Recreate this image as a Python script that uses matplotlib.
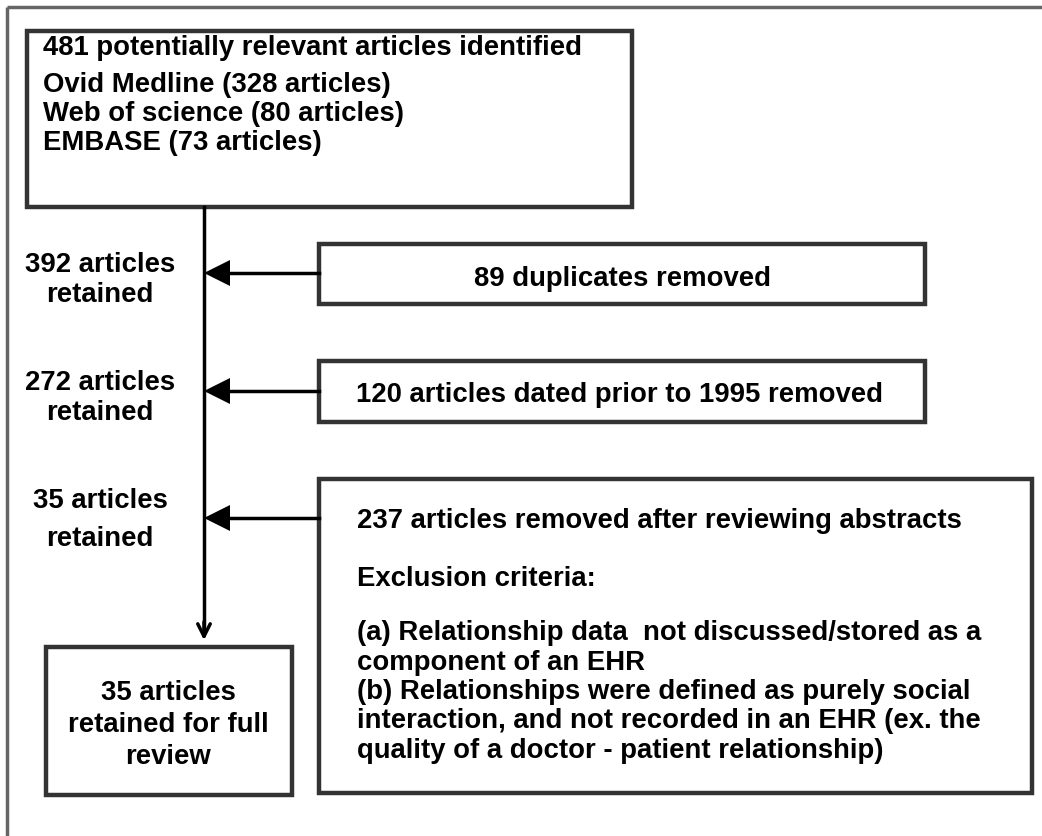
import matplotlib.pyplot as plt
from matplotlib.patches import Rectangle

# flowchart content
total_found = 481
sources = ['Ovid Medline', 'Web of science', 'EMBASE']
source_counts = [328, 80, 73]
retained_counts = [392, 272, 35]
removed_texts = ['89 duplicates removed',
                 '120 articles dated prior to 1995 removed',
                 '237 articles removed after reviewing abstracts']
criteria_lines = ['(a) Relationship data  not discussed/stored as a',
                  'component of an EHR',
                  '(b) Relationships were defined as purely social',
                  'interaction, and not recorded in an EHR (ex. the',
                  'quality of a doctor - patient relationship)']
final_lines = ['35 articles', 'retained for full', 'review']

W, H = 1042, 837
fig = plt.figure(figsize=(W / 100, H / 100), dpi=100)
ax = fig.add_axes([0, 0, 1, 1])
ax.set_xlim(0, W)
ax.set_ylim(H, 0)
ax.axis('off')

font = dict(family='Liberation Sans', fontweight='bold', fontsize=19.8, color='black')
box_col = '#333333'
dy = 2.5  # small nudge so the text sits like the original

def box(x0, y0, x1, y1):
    ax.add_patch(Rectangle((x0, y0), x1 - x0, y1 - y0, fill=False,
                           edgecolor=box_col, linewidth=3.2))

def txt(x, y, s, **kw):
    ax.text(x, y + dy, s, va='center', **kw, **font)

# outer frame (top and left only)
ax.plot([7, W], [8, 8], color='#666666', lw=2.5, solid_capstyle='butt')
ax.plot([7, 7], [8, H], color='#666666', lw=2.5, solid_capstyle='butt')

# top box
box(27, 32, 632, 208)
txt(43, 45, f'{total_found} potentially relevant articles identified')
for i, (s, c) in enumerate(zip(sources, source_counts)):
    txt(43, 82 + i * 29, f'{s} ({c} articles)')

# main vertical line with down arrow
ax.plot([204, 204], [208, 630], color='black', lw=2.5)
ax.annotate('', xy=(204, 644), xytext=(204, 620),
            arrowprops=dict(arrowstyle='->,head_length=0.9,head_width=0.45', lw=2.5, color='black'))

# side boxes
side_boxes = [(319, 245, 925, 305), (319, 362, 925, 423), (319, 480, 1032, 794)]
arrow_y = [274, 392, 519]
label_y = [262, 380, 498]
for (x0, y0, x1, y1), ay, ly, n in zip(side_boxes, arrow_y, label_y, retained_counts):
    box(x0, y0, x1, y1)
    ax.plot([x0, 228], [ay, ay], color='black', lw=2.5)
    ax.fill([204, 230, 230], [ay, ay - 13, ay + 13], color='black', lw=0)
    txt(100, ly, f'{n} articles', ha='center')
    txt(100, ly + 30 if n != 35 else ly + 39, 'retained', ha='center')

txt(622, 276, removed_texts[0], ha='center')
txt(620, 393, removed_texts[1], ha='center')
txt(357, 519, removed_texts[2])
txt(357, 576, 'Exclusion criteria:')
for i, line in enumerate(criteria_lines):
    txt(357, 631 + i * 29.3, line)

# final box
box(46, 648, 292, 796)
for i, line in enumerate(final_lines):
    txt(168, 690 + i * 32, line, ha='center')

fig.savefig('out.png', dpi=100, facecolor='white')
